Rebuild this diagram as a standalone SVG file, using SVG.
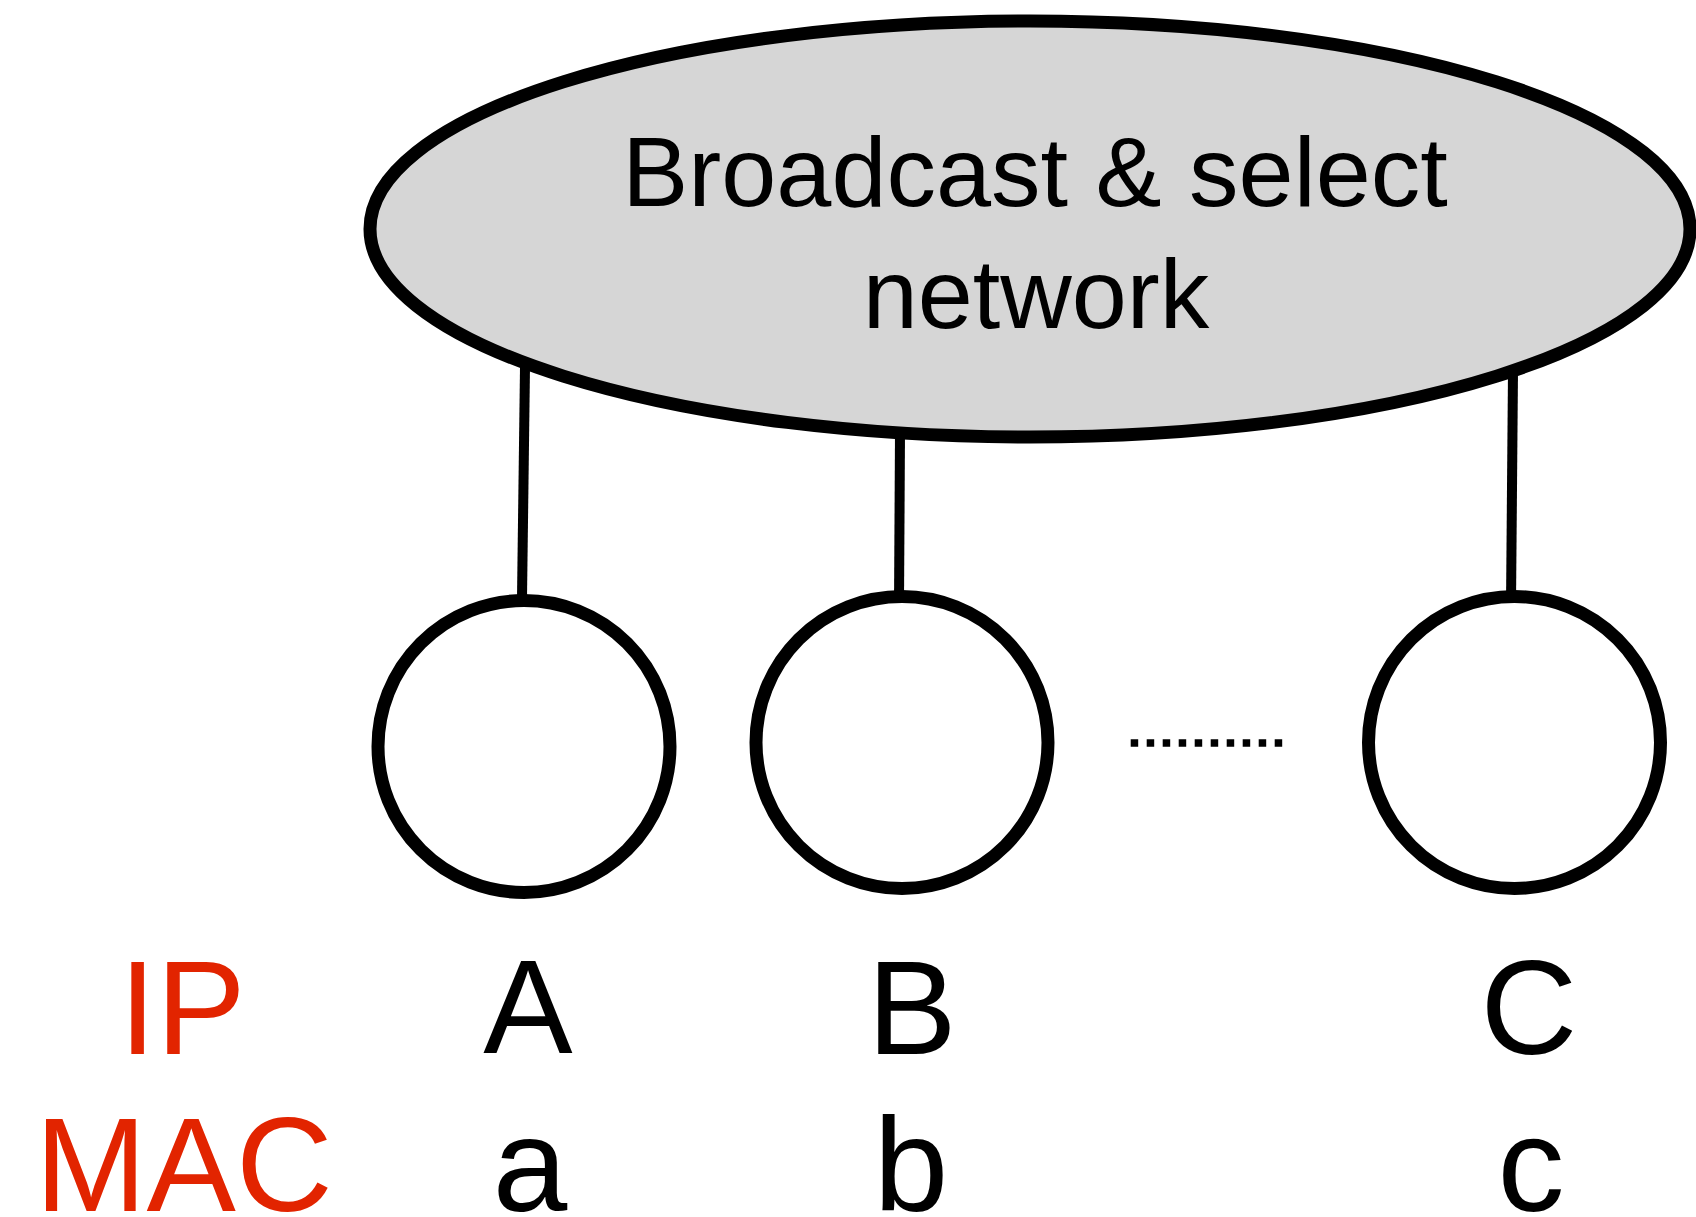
<svg xmlns="http://www.w3.org/2000/svg" width="1696" height="1217" viewBox="0 0 1696 1217">
  <style>
    .net { fill: #d6d6d6; stroke: #000; stroke-width: 13; }
    .host { fill: #fff; stroke: #000; stroke-width: 13; }
    .link { stroke: #000; stroke-width: 10; fill: none; }
    .dots { stroke: #000; stroke-width: 7.5; stroke-dasharray: 7.5 8.5; fill: none; }
    .title { font-family: "Liberation Sans", Arial, Helvetica, sans-serif; font-size: 99px; fill: #000; text-anchor: middle; }
    .lbl { font-family: "Liberation Sans", Arial, Helvetica, sans-serif; font-size: 134px; fill: #000; text-anchor: middle; }
    .key { font-family: "Liberation Sans", Arial, Helvetica, sans-serif; font-size: 134px; fill: #e22400; }
  </style>
  <rect width="1696" height="1217" fill="#fff"/>

  <!-- shared medium -->
  <g id="network">
    <ellipse class="net" cx="1030" cy="229" rx="660" ry="208"/>
    <text class="title" x="1035" y="206">Broadcast &amp; select</text>
    <text class="title" x="1036" y="328">network</text>
  </g>

  <!-- attachments from the medium down to each host -->
  <g id="connectors">
    <line class="link" x1="525" y1="367" x2="522" y2="598"/>
    <line class="link" x1="900" y1="433" x2="899" y2="605"/>
    <line class="link" x1="1513" y1="371" x2="1511" y2="605"/>
  </g>

  <g id="host-a">
    <circle class="host" cx="524" cy="746.5" r="146"/>
  </g>
  <g id="host-b">
    <circle class="host" cx="902" cy="742.5" r="146"/>
  </g>
  <g id="ellipsis">
    <line class="dots" x1="1130.7" y1="743" x2="1282.2" y2="743"/>
  </g>
  <g id="host-c">
    <circle class="host" cx="1514.5" cy="742.5" r="146"/>
  </g>

  <!-- address rows -->
  <g id="labels">
    <text class="key" x="119" y="1054">IP</text>
    <text class="key" x="35" y="1211">MAC</text>
    <text class="lbl" x="528" y="1053">A</text>
    <text class="lbl" x="912" y="1054">B</text>
    <text class="lbl" x="1529" y="1054">C</text>
    <text class="lbl" x="530" y="1211">a</text>
    <text class="lbl" x="911" y="1211">b</text>
    <text class="lbl" x="1531" y="1211">c</text>
  </g>
</svg>
